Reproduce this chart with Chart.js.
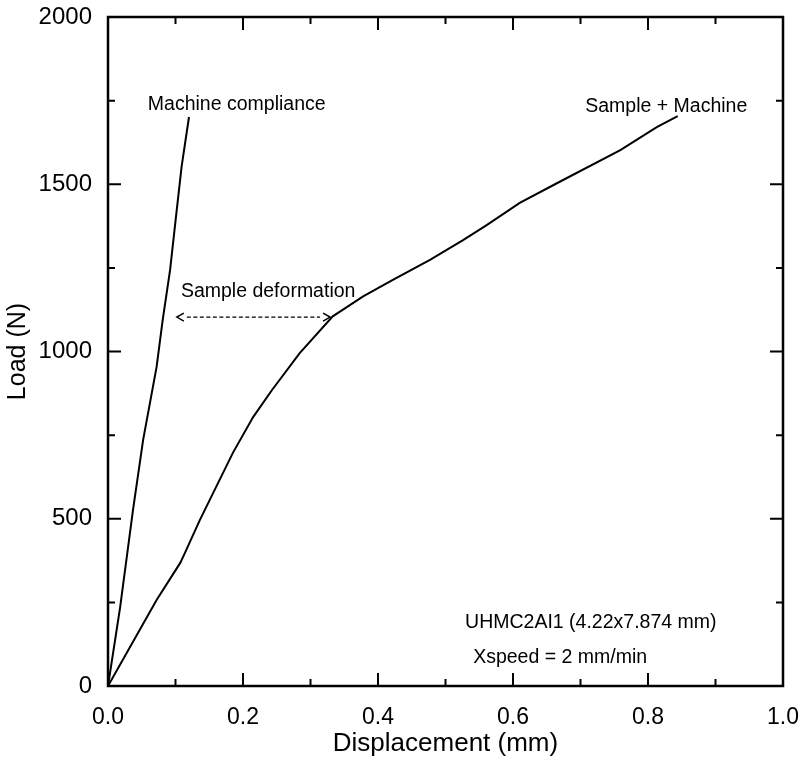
<!DOCTYPE html>
<html>
<head>
<meta charset="utf-8">
<script src="https://cdn.jsdelivr.net/npm/chart.js@4/dist/chart.umd.min.js"></script>
<style>
  html, body { margin: 0; padding: 0; background: #fff; }
  #wrap { width: 806px; height: 762px; }
</style>
</head>
<body>
<div id="wrap"><canvas id="loadChart"></canvas></div>
<script>
// Load vs displacement, UHMC2AI1 sample
var machineDisp = [0, 0.018, 0.037, 0.052, 0.072, 0.081, 0.092, 0.099, 0.109, 0.120];
var machineLoad = [0, 236, 526, 735, 954, 1094, 1244, 1372, 1552, 1701];

var sampleDisp = [0, 0.072, 0.107, 0.114, 0.136, 0.185, 0.215, 0.243, 0.284, 0.333, 0.378, 0.422, 0.477, 0.526, 0.561, 0.610, 0.665, 0.759, 0.813, 0.844];
var sampleLoad = [0, 257, 368, 398, 496, 697, 804, 885, 995, 1105, 1165, 1214, 1274, 1333, 1378, 1444, 1503, 1602, 1671, 1704];

var xTicks = [0, 0.2, 0.4, 0.6, 0.8, 1.0];
var yTicks = [0, 500, 1000, 1500, 2000];

// text notes, anchored in data units (left edge, middle)
var noteText = ["Machine compliance", "Sample + Machine", "Sample deformation", "UHMC2AI1 (4.22x7.874 mm)", "Xspeed = 2 mm/min"];
var noteX = [0.059, 0.707, 0.108, 0.529, 0.541];
var noteY = [1737, 1731, 1178, 188, 84];

// dashed double arrow for the sample deformation
var arrowX = [0.102, 0.329];
var arrowY = 1103;

function toPoints(xs, ys) {
  return xs.map(function (x, i) { return { x: x, y: ys[i] }; });
}

var FONT = "'Liberation Sans', Arial, Helvetica, sans-serif";

// box around the plot, ticks pointing inward on all four sides, notes
var framePlugin = {
  id: "frame",
  afterDraw: function (chart) {
    var ctx = chart.ctx;
    var a = chart.chartArea;
    var xs = chart.scales.x, ys = chart.scales.y;
    ctx.save();
    ctx.strokeStyle = "#000";
    ctx.lineWidth = 2.5;
    ctx.strokeRect(a.left, a.top, a.right - a.left, a.bottom - a.top);

    ctx.lineWidth = 2;
    ctx.beginPath();
    for (var v = 0; v <= 10; v++) {
      var px = xs.getPixelForValue(v / 10);
      var len = v % 2 === 0 ? 13 : 7;
      ctx.moveTo(px, a.bottom); ctx.lineTo(px, a.bottom - len);
      ctx.moveTo(px, a.top); ctx.lineTo(px, a.top + len);
    }
    for (var w = 0; w <= 8; w++) {
      var py = ys.getPixelForValue(w * 250);
      var l2 = w % 2 === 0 ? 13 : 7;
      ctx.moveTo(a.left, py); ctx.lineTo(a.left + l2, py);
      ctx.moveTo(a.right, py); ctx.lineTo(a.right - l2, py);
    }
    ctx.stroke();

    // notes
    ctx.fillStyle = "#000";
    ctx.font = "19.5px " + FONT;
    ctx.textAlign = "left";
    ctx.textBaseline = "middle";
    noteText.forEach(function (t, i) {
      ctx.fillText(t, xs.getPixelForValue(noteX[i]), ys.getPixelForValue(noteY[i]));
    });

    // arrow
    var x1 = xs.getPixelForValue(arrowX[0]);
    var x2 = xs.getPixelForValue(arrowX[1]);
    var y = ys.getPixelForValue(arrowY);
    ctx.lineWidth = 1.3;
    ctx.setLineDash([4, 2.5]);
    ctx.beginPath();
    ctx.moveTo(x1 + 10, y); ctx.lineTo(x2 - 10, y);
    ctx.stroke();
    ctx.setLineDash([]);
    ctx.lineWidth = 1.5;
    ctx.beginPath();
    ctx.moveTo(x1 + 7, y - 4); ctx.lineTo(x1, y); ctx.lineTo(x1 + 7, y + 4);
    ctx.moveTo(x2 - 7, y - 4); ctx.lineTo(x2, y); ctx.lineTo(x2 - 7, y + 4);
    ctx.stroke();
    ctx.restore();
  }
};

new Chart(document.getElementById("loadChart"), {
  type: "line",
  data: {
    datasets: [{
      label: "Machine compliance",
      data: toPoints(machineDisp, machineLoad),
      borderColor: "#000",
      borderWidth: 2,
      pointRadius: 0,
      tension: 0
    }, {
      label: "Sample + Machine",
      data: toPoints(sampleDisp, sampleLoad),
      borderColor: "#000",
      borderWidth: 2,
      pointRadius: 0,
      tension: 0
    }]
  },
  options: {
    responsive: true,
    maintainAspectRatio: false,
    animation: false,
    layout: { padding: { left: 0, top: 17, right: 23, bottom: 0 } },
    plugins: {
      legend: { display: false },
      tooltip: { enabled: false }
    },
    scales: {
      x: {
        type: "linear",
        min: 0,
        max: 1,
        afterBuildTicks: function (s) { s.ticks = xTicks.map(function (v) { return { value: v }; }); },
        afterFit: function (s) { s.height = 76; s.paddingLeft = 0; s.paddingRight = 0; },
        grid: { display: false, drawTicks: false },
        border: { display: false },
        ticks: {
          color: "#000",
          padding: 18,
          maxRotation: 0,
          font: { family: FONT, size: 23 },
          callback: function (v) { return v.toFixed(1); }
        },
        title: {
          display: true,
          text: "Displacement (mm)",
          color: "#000",
          font: { family: FONT, size: 26 },
          padding: { top: 0, bottom: 3 }
        }
      },
      y: {
        type: "linear",
        min: 0,
        max: 2000,
        afterBuildTicks: function (s) { s.ticks = yTicks.map(function (v) { return { value: v }; }); },
        afterFit: function (s) { s.width = 108; s.paddingTop = 0; s.paddingBottom = 0; },
        grid: { display: false, drawTicks: false },
        border: { display: false },
        ticks: {
          color: "#000",
          padding: 16,
          font: { family: FONT, size: 24 },
          callback: function (v) { return String(v); }
        },
        title: {
          display: true,
          text: "Load (N)",
          color: "#000",
          font: { family: FONT, size: 25 },
          padding: { top: 3, bottom: 0 }
        }
      }
    }
  },
  plugins: [framePlugin]
});
</script>
</body>
</html>
